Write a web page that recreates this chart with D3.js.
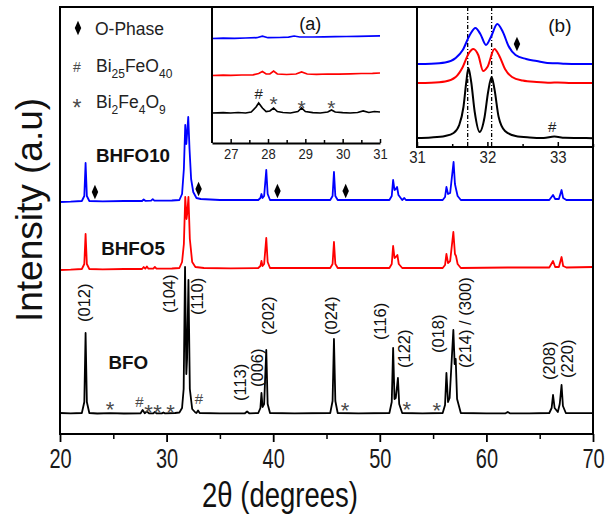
<!DOCTYPE html>
<html><head><meta charset="utf-8">
<script src="https://cdn.jsdelivr.net/npm/d3@7"></script>
<style>body{margin:0;background:#fff} svg{display:block} text{font-family:"Liberation Sans",Arial,Helvetica,sans-serif}</style>
</head><body><svg id="c" width="609" height="525"></svg>
<script>
// ---------- DATA (2θ in degrees, intensity in arbitrary units incl. stacking offset) ----------
const mainTicks = [20, 30, 40, 50, 60, 70];
const mainMinorTicks = [25, 35, 45, 55, 65];
const insetATicks = [27, 28, 29, 30, 31];
const insetAMinor = [27.5, 28.5, 29.5, 30.5];
const insetBTicks = [31, 32, 33];
const insetBMinor = [31.5, 32.5, 33.5];
const seriesNames = ["BFO", "BHFO5", "BHFO10"];

const bfo = [[20,21],[21,20.6],[22.05,21],[22.28,32],[22.4,101],[22.52,32],[22.75,21],[23.5,20.5],[24.7,20.8],[26,20.5],
 [27.55,20.6],[27.75,24],[27.95,20.8],[28.15,22.5],[28.35,20.6],[28.75,20.6],[28.9,22],[29.05,20.6],[29.55,20.6],[29.7,21.5],[29.85,20.6],
 [30.8,21],[31.2,21.5],[31.45,26],[31.6,45],[31.73,167],[31.85,60],[31.92,75],[32.05,154],[32.18,45],[32.4,25],[32.7,21.5],
 [32.8,21],[32.95,23.5],[33.1,21],[35,20.6],[37.35,20.7],[37.55,22.5],[37.75,20.7],[38.6,21],[38.8,26],[38.9,41],[39.0,27],[39.15,30],[39.35,84],[39.48,30],[39.7,21],
 [42,20.6],[45.35,21],[45.57,33],[45.7,95],[45.83,33],[46.05,21],[48,20.6],
 [50.9,21],[51.12,32],[51.25,86],[51.38,35],[51.5,36],[51.7,56],[51.82,30],[52.1,21],[54,20.6],
 [55.9,21],[56.12,29],[56.25,61],[56.4,32],[56.55,36],[56.9,104],[57.02,70],[57.12,75],[57.25,35],[57.6,21],
 [60,20.6],[61.8,20.7],[62,22],[62.2,20.7],[64,20.6],
 [65.9,21],[66.12,26],[66.25,39],[66.4,26],[66.7,22],[66.88,30],[67.05,49],[67.18,28],[67.45,21],[70,20.8]];

const bhfo5 = [[20,164],[21,164.3],[22.05,165],[22.28,170],[22.4,200],[22.52,170],[22.75,165],[24,164.6],[26,165],
 [27.7,165],[27.85,167],[28.0,165.3],[28.15,167.5],[28.3,165.3],[28.75,165.4],[28.9,167],[29.05,165.4],[30.5,165.5],
 [31.2,166],[31.45,172],[31.62,190],[31.75,237],[31.87,215],[31.93,220],[32.05,237],[32.18,195],[32.4,172],[32.7,167],[33.5,166],
 [36,165.6],[38.6,166],[38.8,168],[38.9,173],[39.0,168],[39.15,170],[39.35,196],[39.48,172],[39.7,166],
 [43,166],[45.35,166],[45.57,170],[45.7,192],[45.83,170],[46.05,166],[49,166],
 [50.9,166],[51.12,170],[51.25,188],[51.38,176],[51.5,177],[51.65,179],[51.78,170],[52.1,166],[54,166],
 [55.9,166],[56.12,169],[56.25,180],[56.4,171],[56.6,173],[56.9,202],[57.05,180],[57.15,178],[57.3,170],[57.6,166],
 [62,166.5],[65.9,166.5],[66.25,173],[66.45,167],[66.8,167],[67.05,177],[67.2,168],[67.5,166.5],[70,167]];

const bhfo10 = [[20,232],[21,232.3],[22.05,233],[22.28,238],[22.4,271],[22.52,238],[22.75,233],[24,232.6],[26,233],
 [27.7,233],[27.85,234.5],[28.0,233.2],[28.55,233.3],[28.7,234.8],[28.85,233.3],[30.5,233.5],
 [31.2,234],[31.45,240],[31.62,265],[31.75,309],[31.85,290],[31.92,300],[32.03,317],[32.15,285],[32.3,255],[32.5,242],[32.8,236],[33.2,235],[35,234],
 [38.6,234],[38.8,236],[38.9,240],[39.0,236],[39.15,238],[39.35,264],[39.48,240],[39.7,234],
 [43,234],[45.35,234],[45.57,238],[45.7,262],[45.83,238],[46.05,234],[49,234],
 [50.9,234],[51.12,238],[51.25,254],[51.38,244],[51.5,245],[51.62,247],[51.75,239],[52.1,234],[52.3,236],[52.45,234],[54,234],
 [55.9,234],[56.12,237],[56.25,247],[56.4,240],[56.6,241],[56.92,272],[57.05,250],[57.15,245],[57.3,238],[57.6,234],
 [62,234],[65.9,234],[66.25,239],[66.45,235],[66.8,235],[67.05,244],[67.2,236],[67.5,234],[70,234]];

// inset (a): 26.5 – 31°
const insetA_bfo = [[26.5,30],[26.8,30.3],[27.0,30],[27.2,30.5],[27.4,30],[27.55,31],[27.68,36],[27.75,40],[27.85,35],[27.95,31.5],[28.05,32],[28.15,35],[28.25,31.5],[28.4,30.5],[28.6,30],[28.8,31.5],[28.9,35],[29.0,31.5],[29.2,30.3],[29.4,30],[29.6,31],[29.7,33],[29.8,31],[30.0,30.3],[30.2,30],[30.4,30.5],[30.55,32],[30.7,30.5],[30.85,31.5],[31,31]];
const insetA_bhfo5 = [[26.5,67.5],[26.8,67.8],[27.0,67.6],[27.3,68],[27.6,68.2],[27.75,69.5],[27.85,71.5],[27.95,69],[28.05,69],[28.15,72],[28.25,69],[28.5,68.5],[28.75,69],[28.9,71],[29.05,69],[29.3,68.6],[29.6,69],[29.9,68.8],[30.2,69.2],[30.5,69.5],[30.8,69.6],[31,70]];
const insetA_bhfo10 = [[26.5,104.5],[26.8,104.8],[27.1,104.6],[27.4,105],[27.7,105.3],[27.85,106.8],[28.0,105.3],[28.3,105.5],[28.55,105.8],[28.7,107],[28.85,106],[29.2,106],[29.5,106.2],[29.8,106.3],[30.1,106.5],[30.4,106.6],[30.7,106.8],[31,107.2]];

// inset (b): 31 – 33.5°
const insetB_bfo = [[31,9],[31.2,9.5],[31.4,11],[31.52,14],[31.6,22],[31.66,40],[31.7,65],[31.73,79],[31.77,65],[31.82,35],[31.89,15],[31.96,30],[32.01,55],[32.06,70],[32.1,58],[32.16,30],[32.25,16],[32.4,11],[32.6,9.5],[32.8,9],[32.95,10.5],[33.1,9.2],[33.3,9],[33.5,8.8]];
const insetB_bhfo5 = [[31,64],[31.2,64.3],[31.4,65.5],[31.55,70],[31.65,80],[31.73,93],[31.8,98],[31.87,92],[31.94,76],[32.0,80],[32.1,98],[32.17,91],[32.25,78],[32.35,70],[32.5,66.5],[32.7,65],[32.9,64.3],[33.0,64.5],[33.2,64],[33.5,64]];
const insetB_bhfo10 = [[31,83],[31.2,83.3],[31.4,84.5],[31.55,89],[31.65,97],[31.75,112],[31.83,119],[31.9,113],[31.98,102],[32.05,110],[32.14,123],[32.22,115],[32.3,101],[32.4,92],[32.55,88],[32.7,86],[32.85,84],[33.0,83.7],[33.1,83.2],[33.3,83],[33.5,83]];
const insetBRefLines = [31.72, 32.06];

// peak indexing labels (2θ position of label centre, bottom of label in intensity units)
const hklLabels = ["(012)","(104)","(110)","(113)","(006)","(202)","(024)","(116)","(122)","(018)","(214) / (300)","(208)","(220)"];
const hklX = [22.4, 30.4, 33.0, 37.0, 38.6, 39.7, 45.6, 50.2, 52.4, 55.6, 58.1, 66.0, 67.7];
const hklY = [112, 121, 119, 33, 47, 99, 99, 94, 66, 81, 66, 54, 56];

// phase markers in main panel
const starX = [24.7, 28.3, 29.15, 30.38, 46.73, 52.52, 55.34];
const starY = [30, 27, 27, 27, 28.5, 30, 28.5];
const hashX = [27.45, 33.04];
const hashY = [32.3, 35];
const diamondX = [23.28, 33.0, 40.4, 46.8];
const diamondY = [242, 245, 243, 243];
// inset (a) markers
const insetAHashX = [27.75], insetAHashY = [49];
const insetAStarX = [28.15, 28.9, 29.7], insetAStarY = [43.5, 40, 39.5];
// inset (b) markers
const insetBDiamond = [32.42, 103];
const insetBHash = [32.92, 20];

// ---------- DRAWING ----------
const svg = d3.select("#c");
const x = d3.scaleLinear().domain([20, 70]).range([60, 593]);
const y = d3.scaleLinear().domain([0, 427]).range([434, 7]);
const colors = ["#000000", "#ff0000", "#0000ff"];
const GRAY = "#4a4a4a";

const mainLine = d3.line().x(d => x(d[0])).y(d => y(d[1]));
[bfo, bhfo5, bhfo10].forEach((s, i) => {
  svg.append("path").datum(s).attr("d", mainLine).attr("fill", "none")
    .attr("stroke", colors[i]).attr("stroke-width", 1.8).attr("stroke-linejoin", "round");
});

// main axis
const gx = svg.append("g").attr("transform", "translate(0,434)")
  .call(d3.axisBottom(x).tickValues(mainTicks).tickSize(8).tickSizeOuter(0).tickFormat(d3.format("d")));
gx.select(".domain").remove();
gx.selectAll(".tick line").attr("stroke-width", 1.8);
gx.selectAll("text").attr("y", 0).attr("dy", 0).attr("font-size", 20).attr("fill", "#1a1a1a")
  .attr("transform", "translate(0,34) scale(1,1.35)");
const gxm = svg.append("g").attr("transform", "translate(0,434)")
  .call(d3.axisBottom(x).tickValues(mainMinorTicks).tickSize(5).tickFormat(""));
gxm.select(".domain").remove();
gxm.selectAll(".tick line").attr("stroke-width", 1.5);

// main frame
svg.append("rect").attr("x", x(20)).attr("y", y(427)).attr("width", x(70) - x(20)).attr("height", y(0) - y(427))
  .attr("fill", "none").attr("stroke", "#000").attr("stroke-width", 2);

// axis titles
svg.append("text").attr("transform", "translate(280,507) scale(1,1.27)").attr("text-anchor", "middle")
  .attr("font-size", 27.5).attr("fill", "#111").text("2θ (degrees)");
svg.append("text").attr("transform", "translate(42,210) rotate(-90)").attr("text-anchor", "middle")
  .attr("font-size", 37).attr("fill", "#111").text("Intensity (a.u)");

// sample labels
const sampleLabelPos = [[26.4, 65], [26.85, 179], [26.85, 272]];
seriesNames.forEach((n, i) => {
  svg.append("text").attr("x", x(sampleLabelPos[i][0])).attr("y", y(sampleLabelPos[i][1]))
    .attr("text-anchor", "middle").attr("font-size", 18.8).attr("font-weight", "bold").attr("fill", "#111").text(n);
});

// hkl labels
hklLabels.forEach((t, i) => {
  const fs = 16.5;
  svg.append("text").attr("transform", `translate(${x(hklX[i]) + 0.27 * fs},${y(hklY[i])}) rotate(-90)`)
    .attr("font-size", fs).attr("fill", "#111").text(t);
});

// markers
function star(xp, yp, fs, col) {
  svg.append("text").attr("x", xp).attr("y", yp + 0.57 * fs).attr("text-anchor", "middle")
    .attr("font-size", fs).attr("fill", col).text("*");
}
function hash(xp, yp, fs, col) {
  svg.append("text").attr("x", xp).attr("y", yp + 0.36 * fs).attr("text-anchor", "middle")
    .attr("font-size", fs).attr("fill", col).text("#");
}
function diamond(xp, yp, s) {
  svg.append("path").attr("d", d3.symbol(d3.symbolDiamond, s)())
    .attr("transform", `translate(${xp},${yp}) scale(0.85,1.1)`).attr("fill", "#000");
}
starX.forEach((v, i) => star(x(v), y(starY[i]), 22, GRAY));
hashX.forEach((v, i) => hash(x(v), y(hashY[i]), 15, GRAY));
diamondX.forEach((v, i) => diamond(x(v), y(diamondY[i]), 50));

// legend
diamond(78, 28, 50);
svg.append("text").attr("x", 95).attr("y", 35).attr("font-size", 17.5).attr("fill", "#222").text("O-Phase");
hash(77, 67, 14, GRAY);
const t1 = svg.append("text").attr("x", 96).attr("y", 72).attr("font-size", 17.5).attr("fill", "#222");
t1.append("tspan").text("Bi"); t1.append("tspan").attr("font-size", 12).attr("dy", 6).text("25");
t1.append("tspan").attr("dy", -6).text("FeO"); t1.append("tspan").attr("font-size", 12).attr("dy", 6).text("40");
star(77, 103, 23, GRAY);
const t2 = svg.append("text").attr("x", 96).attr("y", 108).attr("font-size", 17.5).attr("fill", "#222");
t2.append("tspan").text("Bi"); t2.append("tspan").attr("font-size", 12).attr("dy", 6).text("2");
t2.append("tspan").attr("dy", -6).text("Fe"); t2.append("tspan").attr("font-size", 12).attr("dy", 6).text("4");
t2.append("tspan").attr("dy", -6).text("O"); t2.append("tspan").attr("font-size", 12).attr("dy", 6).text("9");

// ---------- inset (a) ----------
const xa = d3.scaleLinear().domain([26.5, 31]).range([212, 380]);
const ya = d3.scaleLinear().domain([0, 136]).range([143, 7]);
const lineA = d3.line().x(d => xa(d[0])).y(d => ya(d[1]));
[insetA_bfo, insetA_bhfo5, insetA_bhfo10].forEach((s, i) => {
  svg.append("path").datum(s).attr("d", lineA).attr("fill", "none").attr("stroke", colors[i]).attr("stroke-width", 1.7);
});
svg.append("line").attr("x1", xa(26.5)).attr("x2", xa(26.5)).attr("y1", ya(136)).attr("y2", ya(0))
  .attr("stroke", "#000").attr("stroke-width", 2);
const gA = svg.append("g").attr("transform", `translate(0,${ya(0)})`)
  .call(d3.axisBottom(xa).tickValues(insetATicks).tickSizeInner(-4).tickSizeOuter(0).tickFormat(d3.format("d")));
gA.select(".domain").attr("stroke-width", 2);
gA.selectAll(".tick line").attr("stroke-width", 1.5);
gA.selectAll("text").attr("y", 0).attr("dy", 0).attr("font-size", 13).attr("fill", "#222")
  .attr("transform", "translate(0,16) scale(1,1.15)");
const gAm = svg.append("g").attr("transform", `translate(0,${ya(0)})`)
  .call(d3.axisBottom(xa).tickValues(insetAMinor).tickSizeInner(-3).tickSizeOuter(0).tickFormat(""));
gAm.select(".domain").remove();
gAm.selectAll(".tick line").attr("stroke-width", 1.5);
svg.append("text").attr("x", xa(29.13)).attr("y", ya(120) + 6.5).attr("text-anchor", "middle")
  .attr("font-size", 18).attr("fill", "#111").text("(a)");
insetAHashX.forEach((v, i) => hash(xa(v), ya(insetAHashY[i]), 15, "#222"));
insetAStarX.forEach((v, i) => star(xa(v), ya(insetAStarY[i]), 21, GRAY));

// ---------- inset (b) ----------
const xb = d3.scaleLinear().domain([31, 33.5]).range([417, 593]);
const yb = d3.scaleLinear().domain([0, 140]).range([147, 7]);
const lineB = d3.line().x(d => xb(d[0])).y(d => yb(d[1])).curve(d3.curveMonotoneX);
svg.append("rect").attr("x", xb(31)).attr("y", yb(140)).attr("width", xb(33.5) - xb(31)).attr("height", yb(0) - yb(140))
  .attr("fill", "#fff");
insetBRefLines.forEach(v => {
  svg.append("line").attr("x1", xb(v)).attr("x2", xb(v)).attr("y1", yb(140)).attr("y2", yb(0))
    .attr("stroke", "#000").attr("stroke-width", 1.3).attr("stroke-dasharray", "4,2,1,2");
});
[insetB_bfo, insetB_bhfo5, insetB_bhfo10].forEach((s, i) => {
  svg.append("path").datum(s).attr("d", lineB).attr("fill", "none").attr("stroke", colors[i]).attr("stroke-width", 2);
});
const gB = svg.append("g").attr("transform", `translate(0,${yb(0)})`)
  .call(d3.axisBottom(xb).tickValues(insetBTicks).tickSizeInner(-5).tickSizeOuter(0).tickFormat(d3.format("d")));
gB.select(".domain").remove();
gB.selectAll(".tick line").attr("stroke-width", 1.5);
gB.selectAll("text").attr("y", 0).attr("dy", 0).attr("font-size", 15).attr("fill", "#222")
  .attr("transform", "translate(0,15.5) scale(1,1.15)");
const gBm = svg.append("g").attr("transform", `translate(0,${yb(0)})`)
  .call(d3.axisBottom(xb).tickValues(insetBMinor).tickSizeInner(-3).tickSizeOuter(0).tickFormat(""));
gBm.select(".domain").remove();
gBm.selectAll(".tick line").attr("stroke-width", 1.5);
svg.append("rect").attr("x", xb(31)).attr("y", yb(140)).attr("width", xb(33.5) - xb(31)).attr("height", yb(0) - yb(140))
  .attr("fill", "none").attr("stroke", "#000").attr("stroke-width", 2);
svg.append("text").attr("x", xb(33.03)).attr("y", yb(122) + 7).attr("text-anchor", "middle")
  .attr("font-size", 19).attr("fill", "#111").text("(b)");
diamond(xb(insetBDiamond[0]), yb(insetBDiamond[1]), 50);
hash(xb(insetBHash[0]), yb(insetBHash[1]), 15, "#222");
</script></body></html>
